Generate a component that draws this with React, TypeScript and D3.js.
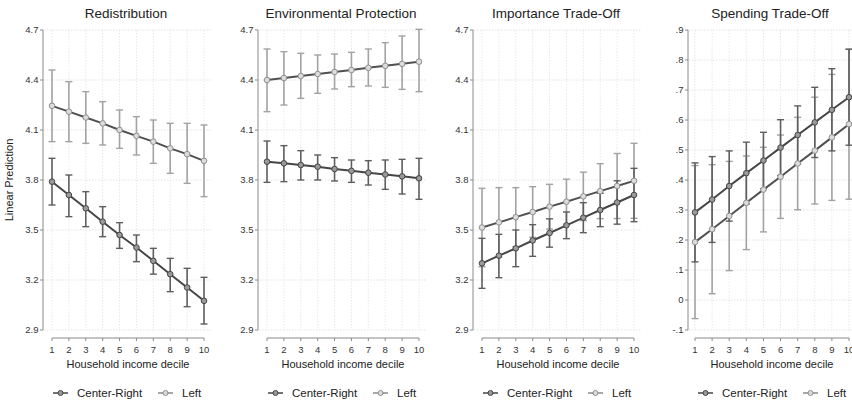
import React from 'react';
import * as d3 from 'd3';

const deciles = [1, 2, 3, 4, 5, 6, 7, 8, 9, 10];
const panelTitles = ['Redistribution', 'Environmental Protection', 'Importance Trade-Off', 'Spending Trade-Off'];
const seriesNames = ['Center-Right', 'Left'];
const xAxisTitle = 'Household income decile';
const yAxisTitle = 'Linear Prediction';

const scaleTicks = [2.9, 3.2, 3.5, 3.8, 4.1, 4.4, 4.7];
const scaleTickLabels = ['2.9', '3.2', '3.5', '3.8', '4.1', '4.4', '4.7'];
const spendTicks = [-0.1, 0, 0.1, 0.2, 0.3, 0.4, 0.5, 0.6, 0.7, 0.8, 0.9];
const spendTickLabels = ['-.1', '0', '.1', '.2', '.3', '.4', '.5', '.6', '.7', '.8', '.9'];

// Redistribution
const redisCR = [3.79, 3.71, 3.63, 3.55, 3.47, 3.395, 3.315, 3.235, 3.155, 3.075];
const redisCRLo = [3.65, 3.58, 3.52, 3.46, 3.39, 3.31, 3.235, 3.13, 3.04, 2.936];
const redisCRHi = [3.93, 3.83, 3.73, 3.64, 3.544, 3.47, 3.39, 3.33, 3.27, 3.216];
const redisLeft = [4.245, 4.21, 4.175, 4.14, 4.1, 4.065, 4.03, 3.99, 3.955, 3.915];
const redisLeftLo = [4.03, 4.03, 4.02, 4.01, 3.99, 3.95, 3.9, 3.84, 3.78, 3.7];
const redisLeftHi = [4.46, 4.39, 4.33, 4.27, 4.22, 4.18, 4.16, 4.14, 4.14, 4.13];

// Environmental Protection
const envCR = [3.91, 3.9, 3.89, 3.88, 3.866, 3.855, 3.844, 3.833, 3.822, 3.81];
const envCRLo = [3.786, 3.79, 3.8, 3.8, 3.794, 3.786, 3.77, 3.744, 3.716, 3.684];
const envCRHi = [4.034, 4.006, 3.976, 3.95, 3.934, 3.92, 3.916, 3.92, 3.924, 3.93];
const envLeft = [4.4, 4.412, 4.424, 4.436, 4.448, 4.46, 4.473, 4.485, 4.497, 4.51];
const envLeftLo = [4.21, 4.25, 4.29, 4.32, 4.346, 4.36, 4.364, 4.356, 4.344, 4.33];
const envLeftHi = [4.586, 4.57, 4.56, 4.55, 4.556, 4.566, 4.586, 4.624, 4.664, 4.704];

// Importance Trade-Off
const impCR = [3.3, 3.346, 3.39, 3.437, 3.482, 3.528, 3.574, 3.62, 3.665, 3.71];
const impCRLo = [3.15, 3.214, 3.28, 3.342, 3.397, 3.448, 3.484, 3.52, 3.535, 3.55];
const impCRHi = [3.45, 3.474, 3.5, 3.532, 3.567, 3.608, 3.664, 3.72, 3.795, 3.87];
const impLeft = [3.515, 3.546, 3.577, 3.608, 3.64, 3.67, 3.702, 3.733, 3.764, 3.795];
const impLeftLo = [3.28, 3.338, 3.4, 3.456, 3.506, 3.535, 3.557, 3.568, 3.569, 3.57];
const impLeftHi = [3.75, 3.754, 3.754, 3.76, 3.774, 3.805, 3.847, 3.898, 3.959, 4.02];

// Spending Trade-Off
const spendCR = [0.292, 0.335, 0.38, 0.423, 0.465, 0.508, 0.55, 0.592, 0.634, 0.676];
const spendCRLo = [0.127, 0.192, 0.263, 0.32, 0.371, 0.415, 0.453, 0.475, 0.497, 0.516];
const spendCRHi = [0.457, 0.478, 0.497, 0.526, 0.559, 0.601, 0.647, 0.709, 0.771, 0.836];
const spendLeft = [0.193, 0.236, 0.28, 0.324, 0.368, 0.411, 0.455, 0.498, 0.542, 0.586];
const spendLeftLo = [-0.062, 0.021, 0.098, 0.168, 0.227, 0.272, 0.301, 0.32, 0.332, 0.336];
const spendLeftHi = [0.448, 0.451, 0.462, 0.48, 0.509, 0.55, 0.609, 0.676, 0.752, 0.836];

type Series = { mean: number[]; lo: number[]; hi: number[] };
type Panel = {
  title: string;
  ticks: number[];
  tickLabels: string[];
  series: Series[];
};

const panels: Panel[] = [
  {
    title: panelTitles[0], ticks: scaleTicks, tickLabels: scaleTickLabels,
    series: [
      { mean: redisCR, lo: redisCRLo, hi: redisCRHi },
      { mean: redisLeft, lo: redisLeftLo, hi: redisLeftHi },
    ],
  },
  {
    title: panelTitles[1], ticks: scaleTicks, tickLabels: scaleTickLabels,
    series: [
      { mean: envCR, lo: envCRLo, hi: envCRHi },
      { mean: envLeft, lo: envLeftLo, hi: envLeftHi },
    ],
  },
  {
    title: panelTitles[2], ticks: scaleTicks, tickLabels: scaleTickLabels,
    series: [
      { mean: impCR, lo: impCRLo, hi: impCRHi },
      { mean: impLeft, lo: impLeftLo, hi: impLeftHi },
    ],
  },
  {
    title: panelTitles[3], ticks: spendTicks, tickLabels: spendTickLabels,
    series: [
      { mean: spendCR, lo: spendCRLo, hi: spendCRHi },
      { mean: spendLeft, lo: spendLeftLo, hi: spendLeftHi },
    ],
  },
];

// layout
const W = 852;
const H = 404;
const axisXs = [43, 258, 473, 688];
const xStartOff = [9, 9, 9, 7];
const xEndOff = 161;
const plotTop = 30;
const plotBottom = 330;
const xAxisY = 338;
const FONT = '"Liberation Sans", Arial, Helvetica, sans-serif';

const styles = [
  { line: '#464646', ci: '#5e5e5e', mStroke: '#444', mFill: '#9a9a9a' },
  { line: '#505050', ci: '#a2a2a2', mStroke: '#8e8e8e', mFill: '#dcdcdc' },
];

function PanelView({ p, i }: { p: Panel; i: number }) {
  const ax = axisXs[i];
  const x = d3.scaleLinear().domain([1, 10]).range([ax + xStartOff[i], ax + xEndOff]);
  const ext = d3.extent(p.ticks) as [number, number];
  const y = d3.scaleLinear().domain(ext).range([plotBottom, plotTop]);
  const gridRight = Math.min(ax + xEndOff + 7, W);
  const lineGen = d3
    .line<number>()
    .x((_, k) => x(deciles[k]))
    .y((d) => y(d));
  const titleX = ax + (xEndOff + xStartOff[i]) / 2 - 2;
  const legX = ax + 10;

  return (
    <g>
      <text x={titleX} y={18} textAnchor="middle" fontSize={13.5} fill="#222" fontFamily={FONT}>
        {p.title}
      </text>
      {/* grid */}
      {p.ticks.map((t) => (
        <line key={'gy' + t} x1={ax + 1} x2={gridRight} y1={y(t)} y2={y(t)} stroke="#dcdcdc" strokeWidth={0.8} strokeDasharray="1.5,1.5" />
      ))}
      {deciles.map((d) => (
        <line key={'gx' + d} x1={x(d)} x2={x(d)} y1={plotTop} y2={plotBottom} stroke="#e2e2e2" strokeWidth={0.8} strokeDasharray="1.5,1.5" />
      ))}
      {/* y axis */}
      <line x1={ax} x2={ax} y1={y(ext[1])} y2={y(ext[0])} stroke="#8a8a8a" strokeWidth={1} />
      {p.ticks.map((t, k) => (
        <g key={'yt' + t}>
          <line x1={ax - 3} x2={ax} y1={y(t)} y2={y(t)} stroke="#8a8a8a" strokeWidth={1} />
          <text x={ax - 4.5} y={y(t) + 3.4} textAnchor="end" fontSize={9.5} fill="#333" fontFamily={FONT}>
            {p.tickLabels[k]}
          </text>
        </g>
      ))}
      {/* x axis */}
      <line x1={x(1)} x2={x(10)} y1={xAxisY} y2={xAxisY} stroke="#8a8a8a" strokeWidth={1} />
      {deciles.map((d) => (
        <g key={'xt' + d}>
          <line x1={x(d)} x2={x(d)} y1={xAxisY} y2={xAxisY + 3} stroke="#8a8a8a" strokeWidth={1} />
          <text x={x(d)} y={xAxisY + 15} textAnchor="middle" fontSize={9.5} fill="#333" fontFamily={FONT}>
            {d}
          </text>
        </g>
      ))}
      <text x={ax + (xEndOff + xStartOff[i]) / 2} y={368} textAnchor="middle" fontSize={11} fill="#222" fontFamily={FONT}>
        {xAxisTitle}
      </text>
      {/* CI bars (Left drawn under CR) */}
      {[1, 0].map((s) => {
        const ser = p.series[s];
        const st = styles[s];
        return (
          <g key={'ci' + s}>
            {deciles.map((d, k) => (
              <g key={d}>
                <line x1={x(d)} x2={x(d)} y1={y(ser.lo[k])} y2={y(ser.hi[k])} stroke={st.ci} strokeWidth={1.6} />
                <line x1={x(d) - 3.5} x2={x(d) + 3.5} y1={y(ser.lo[k])} y2={y(ser.lo[k])} stroke={st.ci} strokeWidth={1.4} />
                <line x1={x(d) - 3.5} x2={x(d) + 3.5} y1={y(ser.hi[k])} y2={y(ser.hi[k])} stroke={st.ci} strokeWidth={1.4} />
              </g>
            ))}
          </g>
        );
      })}
      {[1, 0].map((s) => {
        const ser = p.series[s];
        const st = styles[s];
        return (
          <g key={'ln' + s}>
            <path d={lineGen(ser.mean) || ''} fill="none" stroke={st.line} strokeWidth={2} />
            {deciles.map((d, k) => (
              <circle key={d} cx={x(d)} cy={y(ser.mean[k])} r={2.8} fill={st.mFill} stroke={st.mStroke} strokeWidth={1} />
            ))}
          </g>
        );
      })}
      {/* legend */}
      {seriesNames.map((n, s) => {
        const st = styles[s];
        const sx = legX + s * 105;
        return (
          <g key={'lg' + s}>
            <line x1={sx} x2={sx + 15} y1={393} y2={393} stroke={s === 0 ? '#464646' : '#8a8a8a'} strokeWidth={1.5} />
            <circle cx={sx + 7.5} cy={393} r={2.5} fill={st.mFill} stroke={st.mStroke} strokeWidth={1} />
            <text x={sx + 24} y={397} fontSize={11.5} fill="#222" fontFamily={FONT}>
              {n}
            </text>
          </g>
        );
      })}
    </g>
  );
}

export default function App() {
  return (
    <svg width={W} height={H} style={{ position: 'absolute', left: 0, top: 0, background: '#fff' }}>
      <rect x={0} y={0} width={W} height={H} fill="#fff" />
      <text transform="translate(13,180) rotate(-90)" textAnchor="middle" fontSize={11} fill="#222" fontFamily={FONT}>
        {yAxisTitle}
      </text>
      {panels.map((p, i) => (
        <PanelView key={i} p={p} i={i} />
      ))}
    </svg>
  );
}
